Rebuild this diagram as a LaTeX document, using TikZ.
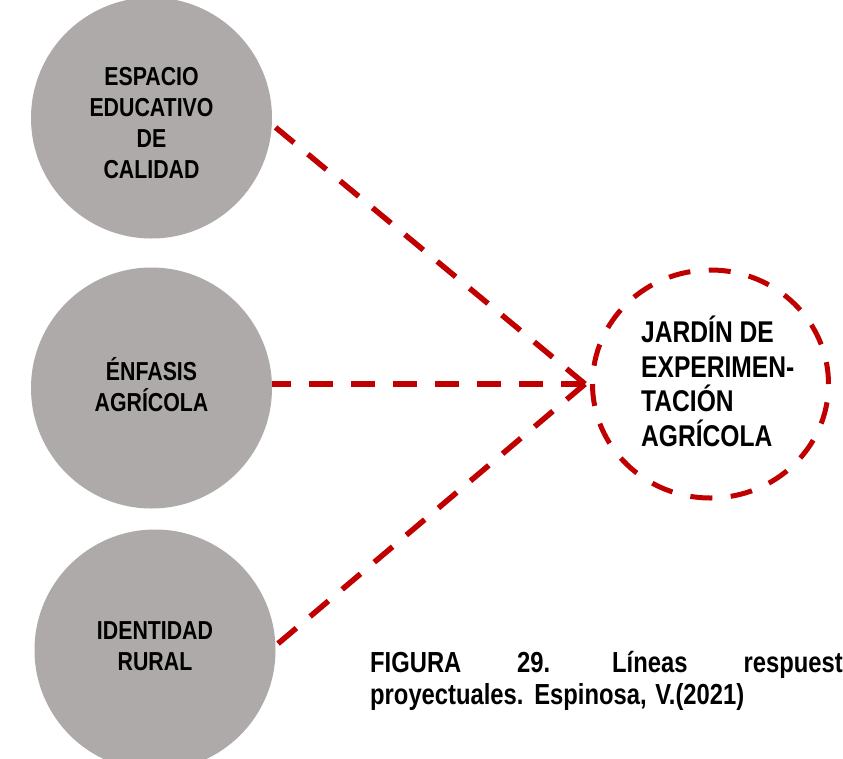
\documentclass[tikz,border=0pt]{standalone}
\usepackage{fontspec}
\newfontfamily\cond{Liberation Sans}[FakeStretch=0.82]
\usetikzlibrary{shapes.geometric}
\definecolor{grisc}{RGB}{174,170,169}
\definecolor{rojo}{RGB}{192,0,0}
\begin{document}
\begin{tikzpicture}[x=1pt,y=-1pt,
  gris/.style={circle,fill=grisc,minimum size=241pt,inner sep=0pt,outer sep=0pt},
  circtxt/.style={inner sep=0pt,align=center,
    font=\cond\bfseries\fontsize{26}{31}\selectfont},
  conn/.style={draw=rojo,line width=5.5pt,dash pattern=on 24pt off 18pt},
  meta/.style={ellipse,draw=rojo,line width=5pt,dash pattern=on 22pt off 18.5pt,
    minimum width=236pt,minimum height=228pt,inner sep=0pt,outer sep=0pt},
  metatxt/.style={anchor=west,inner sep=0pt,align=left,
    font=\cond\bfseries\fontsize{30}{34.5}\selectfont},
  captxt/.style={inner sep=0pt,font=\cond\bfseries\fontsize{29}{32}\selectfont}]
\useasboundingbox (0,0) rectangle (843,758);
\clip (0,0) rectangle (843,758);
\node[gris] (c1) at (151.5,118) {};
\node[gris] (c2) at (151.5,388) {};
\node[gris] (c3) at (155,650) {};
\node[circtxt] (t1) at (151.5,123.5) {ESPACIO\\EDUCATIVO\\DE\\CALIDAD};
\node[circtxt] (t2) at (151.5,385) {ÉNFASIS\\AGRÍCOLA};
\node[circtxt] (t3) at (155,646.5) {IDENTIDAD\\RURAL};
\node[meta] (dc) at (710.5,384) {};
\node[metatxt] (dt) at (641,381.5) {JARDÍN DE\\EXPERIMEN-\\TACIÓN\\AGRÍCOLA};
\coordinate (tip) at (585,384);
\draw[conn] (tip) -- (c1.-3);
\draw[conn] (tip) -- (tip -| c2.east);
\draw[conn] (tip) -- (c3.2);
\node[captxt,anchor=base west] (f1) at (370,672) {FIGURA};
\node[captxt,anchor=base west] (f2) at (517,672) {29.};
\node[captxt,anchor=base west] (f3) at (612,672) {Líneas};
\node[captxt,anchor=base east] (f4) at (843,672) {respuest};
\node[captxt,anchor=base west] (f5) at (370,704) {proyectuales.\hspace{2pt} Espinosa,\hspace{2pt} V.(2021)};
\end{tikzpicture}
\end{document}
